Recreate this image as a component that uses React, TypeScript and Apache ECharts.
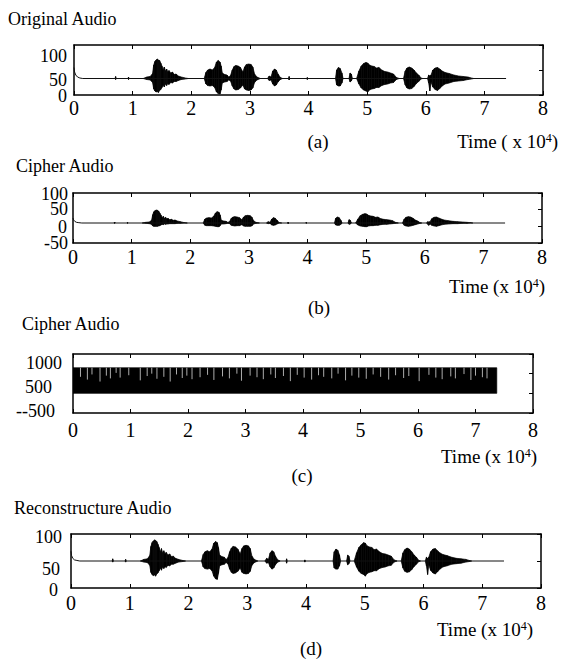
import React, { useEffect, useRef } from 'react';
import * as echarts from 'echarts';

const FONT = '"Liberation Serif", "Times New Roman", serif';

// ---------- texts ----------
const panelTitles = ['Original Audio', 'Cipher Audio', 'Cipher Audio', 'Reconstructure Audio'];
const panelTags = ['(a)', '(b)', '(c)', '(d)'];
const timeLabels = ['Time ( x 10{sup|4})', 'Time (x 10{sup|4})', 'Time (x 10{sup|4})', 'Time (x 10{sup|4})'];
const yLabelsA = ['100', '50', '0'];
const yLabelsB = ['100', '50', '0', '-50'];
const yLabelsC = ['1000', '500', '--500'];
const yLabelsD = ['100', '50', '0'];

// ---------- baseline traces (x in units of 10^4 samples) ----------
const traceX = [0, 0.01, 0.03, 0.06, 0.1, 0.15, 7.37];
const traceA = [55, 46, 40, 36, 34, 33, 33];
const traceB = [25, 19, 15, 12, 11, 10, 10];
const traceD = [68, 60, 55, 52, 51, 50, 50];

// ---------- waveform envelope knots ----------
const knotX = [
  0.70, 0.71, 0.72,
  0.92, 0.93, 0.94,
  1.18, 1.24, 1.30, 1.34, 1.36, 1.38, 1.40, 1.42, 1.44, 1.46, 1.48, 1.50, 1.52, 1.54, 1.56, 1.58, 1.60, 1.62, 1.65, 1.68, 1.71, 1.74, 1.78, 1.83, 1.90, 1.95,
  2.22, 2.25, 2.28, 2.32, 2.36, 2.40, 2.43, 2.46, 2.49, 2.51, 2.53, 2.57, 2.61, 2.64, 2.67, 2.70, 2.73, 2.76, 2.80, 2.84, 2.88, 2.91, 2.94, 2.98, 3.02, 3.05, 3.08, 3.12, 3.18,
  3.30, 3.33, 3.36, 3.39, 3.42, 3.45, 3.48, 3.52, 3.56,
  3.66, 3.67, 3.68,
  3.97, 3.98, 3.99,
  4.46, 4.48, 4.51, 4.54, 4.57, 4.59,
  4.69, 4.71, 4.73, 4.75,
  4.82, 4.86, 4.90, 4.94, 4.98, 5.01, 5.04, 5.08, 5.12, 5.16, 5.20, 5.25, 5.30, 5.35, 5.40, 5.45, 5.50, 5.55,
  5.62, 5.65, 5.68, 5.72, 5.76, 5.80, 5.84, 5.88, 5.92, 5.95,
  6.03, 6.05, 6.07, 6.09, 6.12, 6.16, 6.20, 6.24, 6.28, 6.33, 6.40, 6.48, 6.56, 6.64, 6.72, 6.78, 6.82,
];

const aTop = [
  33, 37, 33,
  33, 36, 33,
  33, 36, 37, 43, 60, 67, 70, 72, 70, 69, 64, 58, 50, 56, 48, 52, 46, 49, 44, 46, 41, 42, 38, 36, 34, 33,
  33, 45, 50, 52, 50, 55, 66, 69, 66, 58, 44, 41, 40, 36, 39, 50, 57, 59, 58, 55, 46, 56, 61, 62, 61, 56, 42, 36, 33,
  33, 38, 36, 48, 52, 50, 42, 35, 33,
  33, 37, 33,
  33, 35, 33,
  33, 50, 55, 53, 44, 33,
  33, 44, 42, 33,
  33, 48, 58, 63, 65, 64, 60, 58, 57, 54, 55, 50, 47, 46, 44, 42, 35, 33,
  33, 48, 54, 56, 54, 50, 44, 40, 34, 33,
  33, 40, 38, 40, 50, 54, 55, 52, 48, 45, 43, 40, 38, 37, 36, 34, 33,
];
const aBot = [
  33, 31, 33,
  33, 31, 33,
  33, 31, 30, 25, 12, 8, 6, 7, 5, 9, 11, 15, 20, 16, 22, 19, 23, 21, 25, 24, 27, 27, 29, 31, 32, 33,
  33, 22, 19, 18, 19, 15, 6, 3, 2, 10, 24, 26, 27, 30, 28, 18, 12, 10, 11, 14, 20, 12, 10, 9, 10, 14, 25, 30, 33,
  33, 29, 30, 22, 18, 20, 26, 31, 33,
  33, 30, 33,
  33, 31, 33,
  33, 20, 18, 18, 24, 33,
  33, 26, 28, 33,
  33, 22, 14, 10, 8, 6, 10, 12, 13, 15, 15, 19, 21, 22, 24, 25, 31, 33,
  33, 20, 14, 12, 13, 17, 23, 27, 32, 33,
  33, 24, 8, 26, 16, 11, 9, 13, 18, 22, 24, 27, 28, 29, 31, 32, 33,
];

const bTop = [
  10, 13, 10,
  10, 12, 10,
  10, 12, 13, 18, 35, 44, 47, 49, 48, 46, 40, 34, 26, 30, 24, 27, 22, 24, 20, 21, 18, 19, 16, 14, 11, 10,
  10, 22, 25, 26, 25, 30, 40, 44, 42, 34, 18, 16, 15, 12, 14, 24, 28, 29, 28, 26, 20, 28, 32, 33, 32, 28, 17, 12, 10,
  10, 14, 12, 22, 26, 24, 18, 11, 10,
  10, 13, 10,
  10, 12, 10,
  10, 24, 28, 26, 18, 10,
  10, 20, 18, 10,
  10, 22, 32, 36, 38, 37, 33, 31, 30, 27, 28, 23, 21, 20, 19, 17, 12, 10,
  10, 22, 27, 29, 28, 24, 19, 16, 11, 10,
  10, 14, 13, 14, 23, 27, 28, 25, 22, 19, 17, 15, 14, 13, 12, 11, 10,
];
const bBot = [
  10, 9, 10,
  10, 9, 10,
  10, 9, 8, 6, 1, 0, 0, 0, 0, 1, 2, 4, 6, 5, 7, 6, 7, 7, 8, 8, 8, 8, 9, 9, 10, 10,
  10, 3, 2, 2, 2, 1, 0, -1, -1, 2, 7, 7, 8, 9, 8, 3, 2, 1, 2, 2, 5, 1, 0, 0, 0, 1, 7, 9, 10,
  10, 8, 9, 4, 3, 4, 7, 10, 10,
  10, 8, 10,
  10, 9, 10,
  10, 4, 3, 3, 6, 10,
  10, 6, 7, 10,
  10, 4, 1, 0, -1, -1, 1, 2, 2, 3, 3, 5, 6, 6, 7, 8, 9, 10,
  10, 3, 1, 0, 1, 3, 5, 7, 9, 10,
  10, 6, 3, 7, 3, 1, 0, 2, 4, 6, 7, 8, 8, 9, 9, 10, 10,
];

const dTop = [
  50, 54, 50,
  50, 53, 50,
  50, 53, 54, 60, 77, 84, 87, 89, 88, 86, 81, 75, 67, 73, 65, 69, 63, 66, 61, 63, 58, 59, 55, 53, 51, 50,
  50, 62, 67, 69, 67, 72, 83, 86, 84, 75, 61, 58, 57, 53, 56, 67, 74, 77, 76, 72, 63, 73, 78, 79, 78, 73, 59, 53, 50,
  50, 55, 53, 65, 69, 67, 59, 52, 50,
  50, 54, 50,
  50, 52, 50,
  50, 67, 72, 70, 61, 50,
  50, 61, 59, 50,
  50, 65, 75, 80, 84, 83, 78, 76, 75, 71, 72, 67, 64, 63, 61, 59, 52, 50,
  50, 65, 71, 74, 72, 67, 61, 57, 51, 50,
  50, 57, 55, 57, 67, 72, 73, 69, 65, 62, 60, 57, 55, 54, 53, 51, 50,
];
const dBot = [
  50, 48, 50,
  50, 48, 50,
  50, 48, 47, 42, 29, 25, 23, 24, 22, 26, 28, 32, 37, 33, 39, 36, 40, 38, 42, 41, 44, 44, 46, 48, 49, 50,
  50, 39, 36, 35, 36, 32, 22, 17, 16, 27, 41, 43, 44, 47, 45, 35, 29, 27, 28, 31, 37, 29, 27, 26, 27, 31, 42, 47, 50,
  50, 46, 47, 39, 35, 37, 43, 48, 50,
  50, 46, 50,
  50, 48, 50,
  50, 37, 35, 35, 41, 50,
  50, 43, 45, 50,
  50, 39, 31, 27, 25, 22, 27, 29, 30, 32, 32, 36, 38, 39, 41, 42, 48, 50,
  50, 37, 31, 29, 30, 34, 40, 44, 49, 50,
  50, 41, 25, 43, 33, 28, 26, 30, 35, 39, 41, 44, 45, 46, 48, 49, 50,
];

// ---------- cipher band (c) ----------
const cX = [0, 7.37];
const cTop = [650, 650];
const cBot = [0, 0];
const cGapX = [
  0.13, 0.25, 0.33, 0.47, 0.58, 0.65, 0.75, 0.82, 0.97,
  1.17, 1.29, 1.37, 1.46, 1.58, 1.69, 1.80, 1.90, 1.98,
  2.07, 2.21, 2.34, 2.45, 2.60, 2.72, 2.85, 2.93,
  3.08, 3.20, 3.31, 3.44, 3.52, 3.66, 3.78, 3.90,
  4.02, 4.15, 4.27, 4.36, 4.50, 4.61, 4.74, 4.85, 4.97,
  5.10, 5.22, 5.35, 5.49, 5.61, 5.75, 5.84,
  6.02, 6.19, 6.31, 6.42, 6.57, 6.65, 6.80, 6.92,
  7.00, 7.12, 7.20,
];
const cGapEnd = [
  420, 350, 480, 300, 450, 380, 520, 400, 460,
  330, 440, 500, 370, 420, 300, 480, 390, 450,
  360, 410, 470, 340, 430, 380, 500, 320,
  450, 410, 360, 480, 390, 440, 310, 470,
  400, 350, 460, 420, 380, 500, 330, 450, 400,
  370, 480, 420, 350, 460, 390, 440,
  310, 470, 400, 360, 430, 380, 490, 340,
  450, 410, 380,
];

// ---------- layout (pixels) ----------
const panels = [
  { grid: { left: 74, top: 45, width: 469, height: 50 }, min: 0, max: 100, interval: 50, margin: 3,
    yLabels: yLabelsA, yPos: [[67, 56], [67, 80], [67, 96]],
    title: [8, 19], tag: [318, 141], time: [558, 141] },
  { grid: { left: 73, top: 193, width: 469, height: 50 }, min: -50, max: 100, interval: 50, margin: 4,
    yLabels: yLabelsB, yPos: [[68, 194], [68, 209], [67, 227], [68, 243]],
    title: [16, 166], tag: [319, 307], time: [545, 286] },
  { grid: { left: 73, top: 354, width: 460, height: 59 }, min: -500, max: 1000, interval: 500, margin: 7,
    yLabels: yLabelsC, yPos: [[62, 363], [52, 387], [55, 411]],
    title: [22, 324], tag: [302, 475], time: [537, 456] },
  { grid: { left: 71, top: 534, width: 470, height: 54 }, min: 0, max: 100, interval: 50, margin: 5,
    yLabels: yLabelsD, yPos: [[62, 537], [60, 569], [58, 590]],
    title: [14, 508], tag: [311, 648], time: [533, 629] },
];

function envelopeSeries(gi: number, xs: number[], top: number[], bot: number[]) {
  return {
    type: 'custom',
    xAxisIndex: gi * 2,
    yAxisIndex: gi * 2,
    clip: true,
    silent: true,
    data: xs.map((x, i) => [x, bot[i], top[i]]),
    encode: { x: 0, y: [1, 2] },
    renderItem: (params: any, api: any) => {
      const i = params.dataIndex;
      if (i >= xs.length - 1 || (top[i] === bot[i] && top[i + 1] === bot[i + 1])) {
        return { type: 'group', children: [] };
      }
      const pts = [
        api.coord([xs[i], top[i]]),
        api.coord([xs[i + 1], top[i + 1]]),
        api.coord([xs[i + 1], bot[i + 1]]),
        api.coord([xs[i], bot[i]]),
      ];
      return { type: 'polygon', shape: { points: pts }, style: { fill: '#000', stroke: '#000', lineWidth: 0.7 } };
    },
  };
}

function traceSeries(gi: number, ys: number[]) {
  return {
    type: 'line',
    xAxisIndex: gi * 2,
    yAxisIndex: gi * 2,
    data: traceX.map((x, i) => [x, ys[i]]),
    showSymbol: false,
    symbol: 'none',
    silent: true,
    lineStyle: { color: '#111', width: 1 },
  };
}

function gapSeries(gi: number) {
  return {
    type: 'custom',
    xAxisIndex: gi * 2,
    yAxisIndex: gi * 2,
    clip: true,
    silent: true,
    data: cGapX.map((x, i) => [x, cGapEnd[i], cTop[0]]),
    encode: { x: 0, y: [1, 2] },
    renderItem: (params: any, api: any) => {
      const i = params.dataIndex;
      const p1 = api.coord([cGapX[i], cTop[0]]);
      const p2 = api.coord([cGapX[i], cGapEnd[i]]);
      return {
        type: 'line',
        shape: { x1: p1[0], y1: p1[1], x2: p2[0], y2: p2[1] },
        style: { stroke: '#fff', lineWidth: 0.8, opacity: 0.85 },
      };
    },
  };
}

function buildOption() {
  const axisLine = { show: true, onZero: false, lineStyle: { color: '#000', width: 1.5 } };
  const tick = { show: true, inside: true, length: 4, lineStyle: { color: '#000', width: 1 } };
  const grids = panels.map((p) => ({ ...p.grid, containLabel: false }));
  const xAxes: any[] = [];
  const yAxes: any[] = [];
  panels.forEach((p, gi) => {
    xAxes.push({
      gridIndex: gi, type: 'value', position: 'bottom', min: 0, max: 8, interval: 1,
      axisLine, axisTick: tick, splitLine: { show: false },
      axisLabel: { show: true, margin: p.margin, color: '#000', fontFamily: FONT, fontSize: 20,
        showMinLabel: true, showMaxLabel: true },
    });
    xAxes.push({
      gridIndex: gi, type: 'value', position: 'top', min: 0, max: 8, interval: 1,
      axisLine, axisTick: tick, splitLine: { show: false }, axisLabel: { show: false },
    });
    yAxes.push({
      gridIndex: gi, type: 'value', position: 'left', min: p.min, max: p.max, interval: p.interval,
      axisLine, axisTick: { show: false }, splitLine: { show: false }, axisLabel: { show: false },
    });
    yAxes.push({
      gridIndex: gi, type: 'value', position: 'right', min: p.min, max: p.max, interval: p.interval,
      axisLine, axisTick: tick, splitLine: { show: false }, axisLabel: { show: false },
    });
  });

  const series: any[] = [
    traceSeries(0, traceA),
    envelopeSeries(0, knotX, aTop, aBot),
    traceSeries(1, traceB),
    envelopeSeries(1, knotX, bTop, bBot),
    envelopeSeries(2, cX, cTop, cBot),
    gapSeries(2),
    traceSeries(3, traceD),
    envelopeSeries(3, knotX, dTop, dBot),
  ];

  const textStyle = (size: number, align: string, extra: any = {}) => ({
    fontFamily: FONT, fontSize: size, fill: '#000', align, verticalAlign: 'middle',
    textAlign: align, textVerticalAlign: 'middle', ...extra,
  });

  const graphics: any[] = [];
  panels.forEach((p, gi) => {
    graphics.push({ type: 'text', x: p.title[0], y: p.title[1], silent: true,
      style: { text: panelTitles[gi], ...textStyle(18, 'left') } });
    graphics.push({ type: 'text', x: p.tag[0], y: p.tag[1], silent: true,
      style: { text: panelTags[gi], ...textStyle(19, 'center') } });
    graphics.push({ type: 'text', x: p.time[0], y: p.time[1], silent: true,
      style: { text: timeLabels[gi], ...textStyle(19, 'right', {
        rich: { sup: { fontFamily: FONT, fontSize: 12, fill: '#000', verticalAlign: 'top' } },
      }) } });
    p.yLabels.forEach((t, k) => {
      graphics.push({ type: 'text', x: p.yPos[k][0], y: p.yPos[k][1], silent: true,
        style: { text: t, ...textStyle(18, 'right') } });
    });
  });

  return {
    animation: false,
    backgroundColor: '#fff',
    grid: grids,
    xAxis: xAxes,
    yAxis: yAxes,
    series,
    graphic: graphics,
  };
}

export default function App() {
  const ref = useRef<HTMLDivElement>(null);
  useEffect(() => {
    if (!ref.current) return;
    const chart = echarts.init(ref.current, null, { renderer: 'svg' });
    chart.setOption(buildOption() as any);
    return () => chart.dispose();
  }, []);
  return (
    <div
      ref={ref}
      style={{ position: 'absolute', left: 0, top: 0, width: 568, height: 659, background: '#fff' }}
    />
  );
}
